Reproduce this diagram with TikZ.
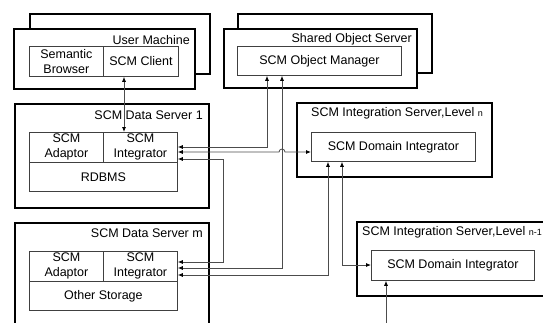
\documentclass[tikz,border=0pt]{standalone}
\usepackage{fontspec}
\setmainfont{Liberation Sans}
\usetikzlibrary{arrows.meta,calc}
\begin{document}
\begin{tikzpicture}[x=1pt,y=-1pt,
  thickbox/.style={draw=black,line width=2pt,fill=white,anchor=north west,inner sep=0pt},
  inbox/.style={draw=black!75,line width=0.8pt,fill=white,inner sep=0pt,anchor=north west,align=center,font=\fontsize{12.5}{15}\selectfont},
  lbl/.style={inner sep=0pt,font=\fontsize{12.5}{15}\selectfont},
  small/.style={font=\fontsize{9}{10}\selectfont},
  conn/.style={draw=black!70,line width=0.8pt},
  >={Latex[length=5pt,width=4pt,color=black]}
]
\useasboundingbox (0,0) rectangle (543,322);
\clip (0,0) rectangle (543,322);

% User machine
\node[thickbox,minimum width=180pt,minimum height=60pt] (umback) at (29,13) {};
\node[thickbox,minimum width=181pt,minimum height=60pt] (umfront) at (13,28) {};
\node[lbl,anchor=east] (umlbl) at (190,40) {User Machine};
\node[inbox,minimum width=74pt,minimum height=30pt] (sb) at (29,46) {Semantic\\Browser};
\node[inbox,minimum width=75pt,minimum height=30pt] (client) at (103,46) {SCM Client};

% Shared object server
\node[thickbox,minimum width=194pt,minimum height=59pt] (soback) at (237,13) {};
\node[thickbox,minimum width=193pt,minimum height=59pt] (sofront) at (223,28) {};
\node[lbl,anchor=east] (solbl) at (412,39) {Shared Object Server};
\node[inbox,minimum width=164pt,minimum height=29pt] (om) at (237,46) {SCM Object Manager};

% Data server 1
\node[thickbox,minimum width=194pt,minimum height=104pt] (ds1) at (14,103) {};
\node[lbl,anchor=east] (ds1lbl) at (203,115) {SCM Data Server 1};
\node[inbox,minimum width=74pt,minimum height=30pt] (ad1) at (29,132) {SCM\\Adaptor};
\node[inbox,minimum width=74pt,minimum height=30pt] (int1) at (103,132) {SCM\\Integrator};
\node[inbox,minimum width=148pt,minimum height=29pt] (rdb1) at (29,162) {RDBMS};

% Data server m
\node[thickbox,minimum width=194pt,minimum height=123pt] (dsm) at (14,222) {};
\node[lbl,anchor=east] (dsmlbl) at (203,233) {SCM Data Server m};
\node[inbox,minimum width=74pt,minimum height=30pt] (adm) at (29,251) {SCM\\Adaptor};
\node[inbox,minimum width=74pt,minimum height=30pt] (intm) at (103,251) {SCM\\Integrator};
\node[inbox,minimum width=148pt,minimum height=29pt] (oth) at (29,281) {Other Storage};

% Integration server n
\node[thickbox,minimum width=195pt,minimum height=74pt] (isn) at (296,102) {};
\node[lbl,anchor=west] (isnlbl) at (311,113) {SCM Integration Server,Level {\fontsize{9}{10}\selectfont n}};
\node[inbox,minimum width=164pt,minimum height=29pt] (din) at (311,132) {SCM Domain Integrator};

% Integration server n-1
\node[thickbox,minimum width=214pt,minimum height=74pt] (isn1) at (356,221) {};
\node[lbl,anchor=west] (isn1lbl) at (362,232) {SCM Integration Server,Level {\fontsize{9}{10}\selectfont n-1}};
\node[inbox,minimum width=163pt,minimum height=30pt] (din1) at (371,250) {SCM Domain Integrator};

% helper coordinates
\coordinate (xa) at (124,0);
\coordinate (xb) at (267,0);
\coordinate (yb) at (0,147);
\coordinate (xc) at (282,0);
\coordinate (yc) at (0,268);
\coordinate (yd) at (0,152);
\coordinate (ye) at (0,159);
\coordinate (xe) at (223,0);
\coordinate (yf) at (0,262);
\coordinate (yg) at (0,275);
\coordinate (xg) at (328,0);
\coordinate (xh) at (342,0);
\coordinate (yh) at (0,265);
\coordinate (src) at (386,330);

% connectors
\draw[conn,<->] (client.south -| xa) -- (int1.north -| xa);
\draw[conn,<->] (om.south -| xb) |- (int1.east |- yb);
\draw[conn,<->] (om.south -| xc) |- (intm.east |- yc);
\draw[conn,<->] (int1.east |- yd) -- ($(xc |- yd)+(-3pt,0)$) arc[start angle=180,end angle=0,radius=3pt] -- (din.west |- yd);
\draw[conn,<->] (int1.east |- ye) -| (xe |- yf) -- (intm.east |- yf);
\draw[conn,<->] (intm.east |- yg) -| (din.south -| xg);
\draw[conn,<->] (din.south -| xh) |- (din1.west |- yh);
\draw[conn,->] (src) -- (din1.south -| src);
\end{tikzpicture}
\end{document}
